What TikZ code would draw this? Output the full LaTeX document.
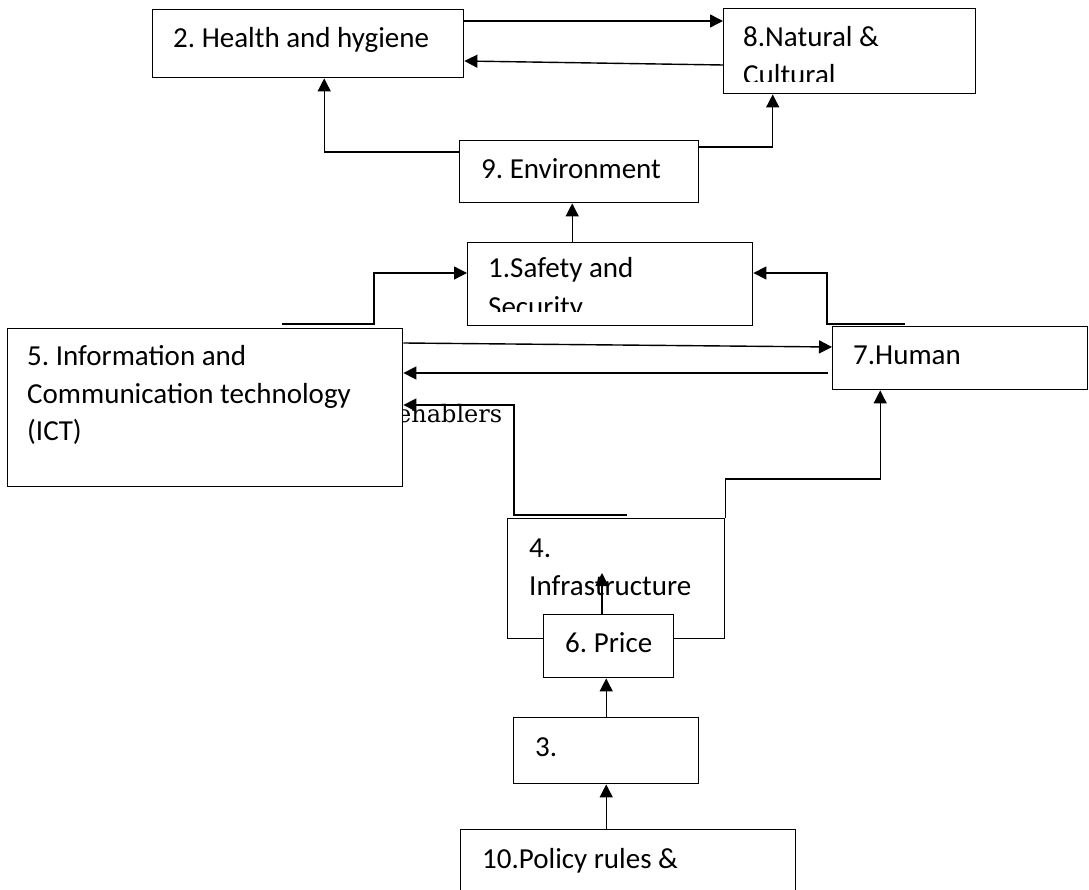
\documentclass[tikz,border=0pt]{standalone}
\usepackage{fontspec}
\setmainfont{Carlito}
\newfontfamily\enfont{DejaVu Serif}
\usetikzlibrary{arrows.meta}
\frenchspacing

\begin{document}
\begin{tikzpicture}[x=1pt,y=-1pt,
    box/.style={draw, fill=white, line width=1.4pt, anchor=north west, inner sep=0pt},
    lbl/.style={anchor=base west, inner sep=0pt, font=\fontsize{29}{35}\selectfont},
    link/.style={line width=1.4pt},
    arr/.style={link, -{Triangle[length=13pt,width=13pt]}}]
    \useasboundingbox (0,0) rectangle (1089,890);
    % label behind the ICT box
    \node[anchor=base west, inner sep=0pt, font=\enfont\fontsize{24}{28}\selectfont] (enablers) at (397,422) {enablers};
    % boxes
    \node[box, minimum width=311pt, minimum height=68pt]  (health)  at (152,9)   {};
    \node[box, minimum width=252pt, minimum height=85pt]  (natural) at (723,8)   {};
    \node[box, minimum width=239pt, minimum height=62pt]  (env)     at (459,140) {};
    \node[box, minimum width=285pt, minimum height=83pt]  (safety)  at (467,242) {};
    \node[box, minimum width=395pt, minimum height=158pt] (ict)     at (7,328)   {};
    \node[box, minimum width=255pt, minimum height=63pt]  (human)   at (832,326) {};
    \node[box, minimum width=217pt, minimum height=120pt] (infra)   at (507,518) {};
    \node[box, minimum width=130pt, minimum height=63pt]  (price)   at (543,614) {};
    \node[box, minimum width=185pt, minimum height=66pt]  (three)   at (513,717) {};
    \node[box, minimum width=335pt, minimum height=90pt]  (policy)  at (460,829) {};
    % texts
    \node[lbl] (healthtxt) at (173,48) {2. Health and hygiene};
    \node[lbl] (naturaltxt) at (743,47) {8.Natural \&};
    \begin{scope}
      \clip (725,10) rectangle (973,82);
      \node[lbl] (naturaltxtb) at (743,85) {Cultural};
    \end{scope}
    \node[lbl] (envtxt) at (481,179) {9. Environment};
    \node[lbl] (safetytxt) at (488,278) {1.Safety and};
    \begin{scope}
      \clip (469,244) rectangle (750,312);
      \node[lbl] (safetytxtb) at (488,317) {Security};
    \end{scope}
    \node[lbl] (icttxt)  at (27,366) {5. Information and};
    \node[lbl] (icttxtb) at (27,403) {Communication technology};
    \node[lbl] (icttxtc) at (27,440) {(ICT)};
    \node[lbl] (humantxt) at (853,364) {7.Human};
    \node[lbl] (infratxt)  at (529,557) {4.};
    \node[lbl] (infratxtb) at (529,595) {Infrastructure};
    \node[lbl] (pricetxt) at (565,652) {6. Price};
    \node[lbl] (threetxt) at (535,756) {3.};
    \node[lbl] (policytxt) at (482,868) {10.Policy rules \&};
    % free ends
    \coordinate (ictstub)   at (282,324);
    \coordinate (humanstub) at (905,324);
    \coordinate (humanout)  at (828,373);
    \coordinate (infrastub) at (627,515);
    \coordinate (infratip)  at (602,573);
    % connectors
    \draw[arr] ([yshift=-12pt]health.north east) -- ([yshift=-12pt]health.north east -| natural.west);
    \draw[arr] ([yshift=-57pt]natural.north west) -- ([yshift=-52pt]health.north east);
    \draw[arr] ([yshift=-12pt]env.north west) -| ([xshift=16pt]health.south);
    \draw[arr] ([yshift=-7pt]env.north east) -| ([xshift=-77pt]natural.south);
    \draw[arr] ([xshift=-38pt]safety.north) -- ([xshift=-38pt]safety.north |- env.south);
    \draw[arr] (ictstub) -- ++(92,0) |- ([yshift=-31pt]safety.north west);
    \draw[arr] (humanstub) -- ++(-78,0) |- ([yshift=-31pt]safety.north east);
    \draw[arr] ([yshift=-15pt]ict.north east) -- ([yshift=-21pt]human.north west);
    \draw[arr] (humanout) -- (humanout -| ict.east);
    \draw[arr] (infrastub) -- ++(-113,0) |- ([yshift=-77pt]ict.north east);
    \draw[arr] (infra.north east) -- ++(0,-39) -| ([xshift=-80pt]human.south);
    \draw[arr] (price.north -| infratip) -- (infratip);
    \draw[arr] (three.north) -- (three.north |- price.south);
    \draw[arr] (three.south |- policy.north) -- (three.south);
\end{tikzpicture}
\end{document}
